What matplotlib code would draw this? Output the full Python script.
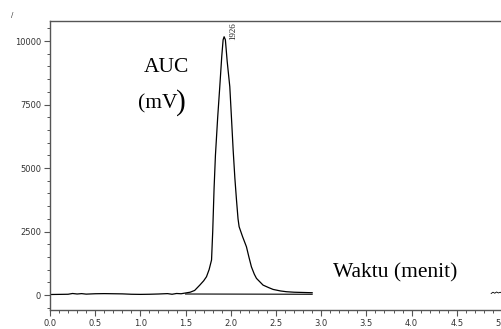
import numpy as np
import matplotlib
matplotlib.use("Agg")
import matplotlib.pyplot as plt
from matplotlib.ticker import MultipleLocator

# chromatogram trace (time in min, signal in mV)
time_min = [0.0, 0.1, 0.2, 0.25, 0.3, 0.35, 0.4, 0.5, 0.6, 0.7, 0.8, 0.9, 1.0,
            1.1, 1.2, 1.3, 1.35, 1.4, 1.45, 1.5, 1.55, 1.6, 1.657, 1.7, 1.731,
            1.76, 1.787, 1.8, 1.815, 1.83, 1.855, 1.878, 1.9, 1.915, 1.926,
            1.94, 1.96, 1.989, 2.01, 2.026, 2.045, 2.063, 2.08, 2.092, 2.13,
            2.173, 2.2, 2.228, 2.26, 2.284, 2.357, 2.42, 2.468, 2.55, 2.615,
            2.7, 2.8, 2.9]
signal_mv = [20, 25, 30, 60, 40, 55, 35, 50, 55, 50, 45, 30, 25,
             30, 40, 55, 30, 60, 50, 80, 110, 180, 390, 560, 720,
             1000, 1380, 2500, 4200, 5500, 7000, 8200, 9400, 10050, 10170,
             10050, 9200, 8200, 6800, 5710, 4600, 3740, 3000, 2690, 2300,
             1900, 1500, 1110, 820, 655, 390, 290, 220, 160, 130,
             110, 100, 90]

# integration baseline under the peak
base_t = [1.5, 2.9]
base_v = [40, 30]

# small blip at the right edge
blip_t = [4.88, 4.9, 4.92, 4.94, 4.96, 4.98, 5.0]
blip_v = [60, 110, 70, 120, 80, 110, 70]

peak_label = "1926"
peak_t = 1.926
peak_v = 10170

W, H = 502, 329
fig = plt.figure(figsize=(W / 100, H / 100), dpi=100)
ax = fig.add_axes([50 / W, 19 / H, 1 - 50 / W, (310 - 21) / H])

ax.plot(time_min, signal_mv, color="black", lw=0.9)
ax.plot(base_t, base_v, color="black", lw=0.8)
ax.plot(blip_t, blip_v, color="black", lw=0.6)

ax.set_xlim(0, 5.0)
ax.set_ylim(-590, 10790)
ax.xaxis.set_major_locator(MultipleLocator(0.5))
ax.xaxis.set_minor_locator(MultipleLocator(0.1))
ax.yaxis.set_major_locator(MultipleLocator(2500))
ax.yaxis.set_minor_locator(MultipleLocator(500))
ax.xaxis.set_major_formatter(lambda v, p: f"{v:.1f}")
ax.yaxis.set_major_formatter(lambda v, p: f"{int(v)}")

ax.spines["right"].set_visible(False)
for s in ("left", "top", "bottom"):
    ax.spines[s].set_color("#555555")
    ax.spines[s].set_linewidth(1.0)
ax.tick_params(which="major", length=4, width=0.8, color="#555555",
               labelsize=6, labelcolor="#333333", pad=2.5)
ax.tick_params(which="minor", length=2.2, width=0.7, color="#555555")

serif = "Liberation Serif"
ax.text(peak_t + 0.1, 10400, peak_label, rotation=90, fontsize=6.5,
        family=serif, ha="center", va="center", color="#222222")
fig.text(166 / W, 1 - 68 / H, "AUC", fontsize=15.5, family=serif,
         ha="center", va="center")
fig.text(138 / W, 1 - 104 / H, "(mV", fontsize=15.5, family=serif,
         ha="left", va="center")
fig.text(176 / W, 1 - 103 / H, ")", fontsize=21, family=serif,
         ha="left", va="center")
fig.text(395 / W, 1 - 273 / H, "Waktu (menit)", fontsize=15.5, family=serif,
         ha="center", va="center")
fig.text(12 / W, 1 - 15 / H, "/", fontsize=5, ha="center", va="center",
         color="#333333")

fig.savefig("out.png", dpi=100)
